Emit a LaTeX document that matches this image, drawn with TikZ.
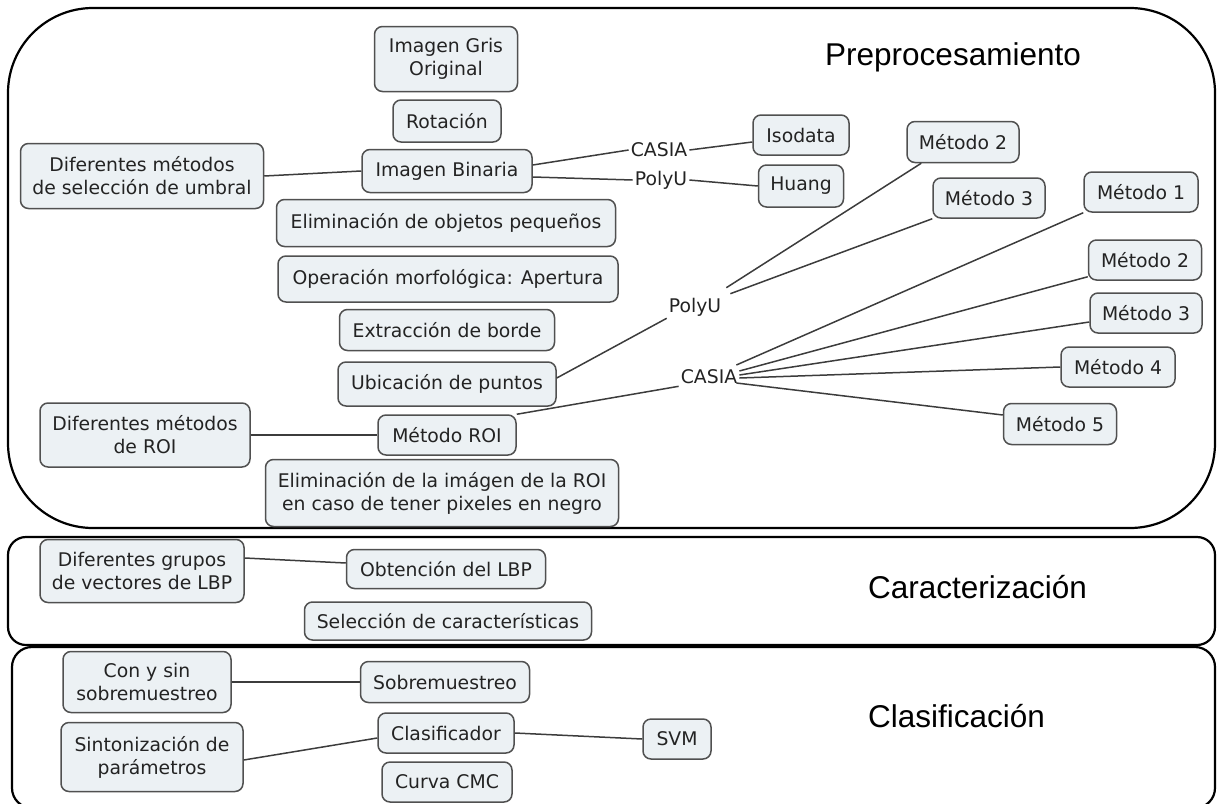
\documentclass[tikz,border=0pt]{standalone}
\usepackage{fontspec}
\setmainfont{DejaVu Sans}
\newfontfamily\headfont{Liberation Sans}
\usetikzlibrary{calc}
\definecolor{boxfill}{RGB}{236,241,244}
\definecolor{boxline}{RGB}{80,80,80}
\definecolor{txt}{RGB}{35,35,35}
\definecolor{linkcol}{RGB}{60,60,60}
\tikzset{
  concept/.style={draw=boxline, fill=boxfill, line width=1.5pt, rounded corners=8pt,
    align=center, text=txt, font=\fontsize{18.8}{23}\selectfont, inner sep=2pt},
  tag/.style={text=txt, font=\fontsize{18.8}{23}\selectfont, inner sep=2pt},
  link/.style={draw=linkcol, line width=1.5pt},
  region/.style={draw=black, line width=2.2pt},
  heading/.style={font=\headfont\fontsize{31.5}{36}\selectfont, anchor=base west, inner sep=0pt},
}
\begin{document}
\begin{tikzpicture}[x=1pt, y=-1pt]
\useasboundingbox (0,0) rectangle (1217,803);
\clip (0,0) rectangle (1217,803);

% stage frames
\draw[region, rounded corners=85pt] (8,8) rectangle (1215,528);
\draw[region, rounded corners=18pt] (8,537) rectangle (1215,645);
\draw[region, rounded corners=20pt] (12,647) rectangle (1215,808);

% stage titles
\node[heading] (tpre) at (825,65) {Preprocesamiento};
\node[heading] (tcar) at (868,598) {Caracterización};
\node[heading] (tcla) at (868,727) {Clasificación};

% preprocessing
\node[concept, minimum width=143pt, minimum height=65pt] (gris) at (446,59) {Imagen Gris\\Original};
\node[concept, minimum width=108pt, minimum height=42pt] (rot) at (447,121) {Rotación};
\node[concept, minimum width=170pt, minimum height=43pt] (bin) at (447,171) {Imagen Binaria};
\node[concept, minimum width=243pt, minimum height=65pt] (umbral) at (142,176) {Diferentes métodos\\de selección de umbral};
\node[concept, minimum width=339pt, minimum height=47pt] (elim) at (446,223) {Eliminación de objetos pequeños};
\node[concept, minimum width=340pt, minimum height=46pt] (morf) at (448,279) {Operación morfológica: Apertura};
\node[concept, minimum width=215pt, minimum height=41pt] (borde) at (447,330) {Extracción de borde};
\node[concept, minimum width=218pt, minimum height=44pt] (puntos) at (447,384) {Ubicación de puntos};
\node[concept, minimum width=138pt, minimum height=40pt] (roi) at (447,435) {Método ROI};
\node[concept, minimum width=210pt, minimum height=64pt] (difroi) at (145,435) {Diferentes métodos\\de ROI};
\node[concept, minimum width=353pt, minimum height=67pt] (elimroi) at (442,493) {Eliminación de la imágen de la ROI\\en caso de tener pixeles en negro};

\node[tag] (casiaA) at (659,150) {CASIA};
\node[tag] (polyuA) at (661,180) {PolyU};
\node[concept, minimum width=96pt, minimum height=40pt] (iso) at (801,135) {Isodata};
\node[concept, minimum width=85pt, minimum height=42pt] (huang) at (801,186) {Huang};

\node[tag] (polyuB) at (695,307) {PolyU};
\node[tag] (casiaB) at (709,377) {CASIA};
\node[concept, minimum width=112pt, minimum height=41pt] (m2a) at (963,142) {Método 2};
\node[concept, minimum width=112pt, minimum height=40pt] (m3a) at (989,198) {Método 3};
\node[concept, minimum width=114pt, minimum height=40pt] (m1) at (1141,192) {Método 1};
\node[concept, minimum width=113pt, minimum height=40pt] (m2b) at (1145,260) {Método 2};
\node[concept, minimum width=112pt, minimum height=40pt] (m3b) at (1146,313) {Método 3};
\node[concept, minimum width=114pt, minimum height=40pt] (m4) at (1118,367) {Método 4};
\node[concept, minimum width=113pt, minimum height=41pt] (m5) at (1060,424) {Método 5};

% characterization
\node[concept, minimum width=204pt, minimum height=63pt] (grupos) at (142,571) {Diferentes grupos\\de vectores de LBP};
\node[concept, minimum width=199pt, minimum height=39pt] (lbp) at (446,569) {Obtención del LBP};
\node[concept, minimum width=287pt, minimum height=38pt] (sel) at (448,621) {Selección de características};

% classification
\node[concept, minimum width=168pt, minimum height=61pt] (consin) at (147,682) {Con y sin\\sobremuestreo};
\node[concept, minimum width=169pt, minimum height=41pt] (sobre) at (445,682) {Sobremuestreo};
\node[concept, minimum width=182pt, minimum height=69pt] (sinton) at (152,757) {Sintonización de\\parámetros};
\node[concept, minimum width=136pt, minimum height=40pt] (clasif) at (446,733) {Clasificador};
\node[concept, minimum width=130pt, minimum height=40pt] (cmc) at (447,782) {Curva CMC};
\node[concept, minimum width=68pt, minimum height=40pt] (svm) at (677,739) {SVM};

% links
\draw[link] (umbral.east) -- (bin.west);
\draw[link] ([yshift=6pt]bin.east) -- (casiaA.west);
\draw[link] (casiaA.east) -- ([yshift=-7pt]iso.west);
\draw[link] ([yshift=-6pt]bin.east) -- (polyuA.west);
\draw[link] (polyuA.east) -- (huang.west);

\draw[link] ([yshift=6pt]puntos.east) -- (polyuB.south west);
\draw[link] ([shift={(3pt,8pt)}]polyuB.north east) -- ([xshift=15pt]m2a.south west);
\draw[link] ([shift={(7pt,2pt)}]polyuB.north east) -- (m3a.south west);

\draw[link] (roi.north east) -- (casiaB.south west);
\draw[link] ([shift={(-3pt,12pt)}]casiaB.east) -- (m1.south west);
\draw[link] ([yshift=6pt]casiaB.east) -- ([yshift=4pt]m2b.south west);
\draw[link] ([yshift=2pt]casiaB.east) -- ([yshift=-9pt]m3b.west);
\draw[link] ([yshift=-1pt]casiaB.east) -- (m4.west);
\draw[link] ([shift={(-3pt,-6pt)}]casiaB.east) -- ([yshift=9pt]m5.west);

\draw[link] (difroi.east) -- (roi.west);
\draw[link] ([yshift=13pt]grupos.east) -- ([yshift=6pt]lbp.west);
\draw[link] (consin.east) -- (sobre.west);
\draw[link] ([yshift=-3pt]sinton.east) -- ([yshift=-5pt]clasif.west);
\draw[link] (clasif.east) -- (svm.west);
\end{tikzpicture}
\end{document}
